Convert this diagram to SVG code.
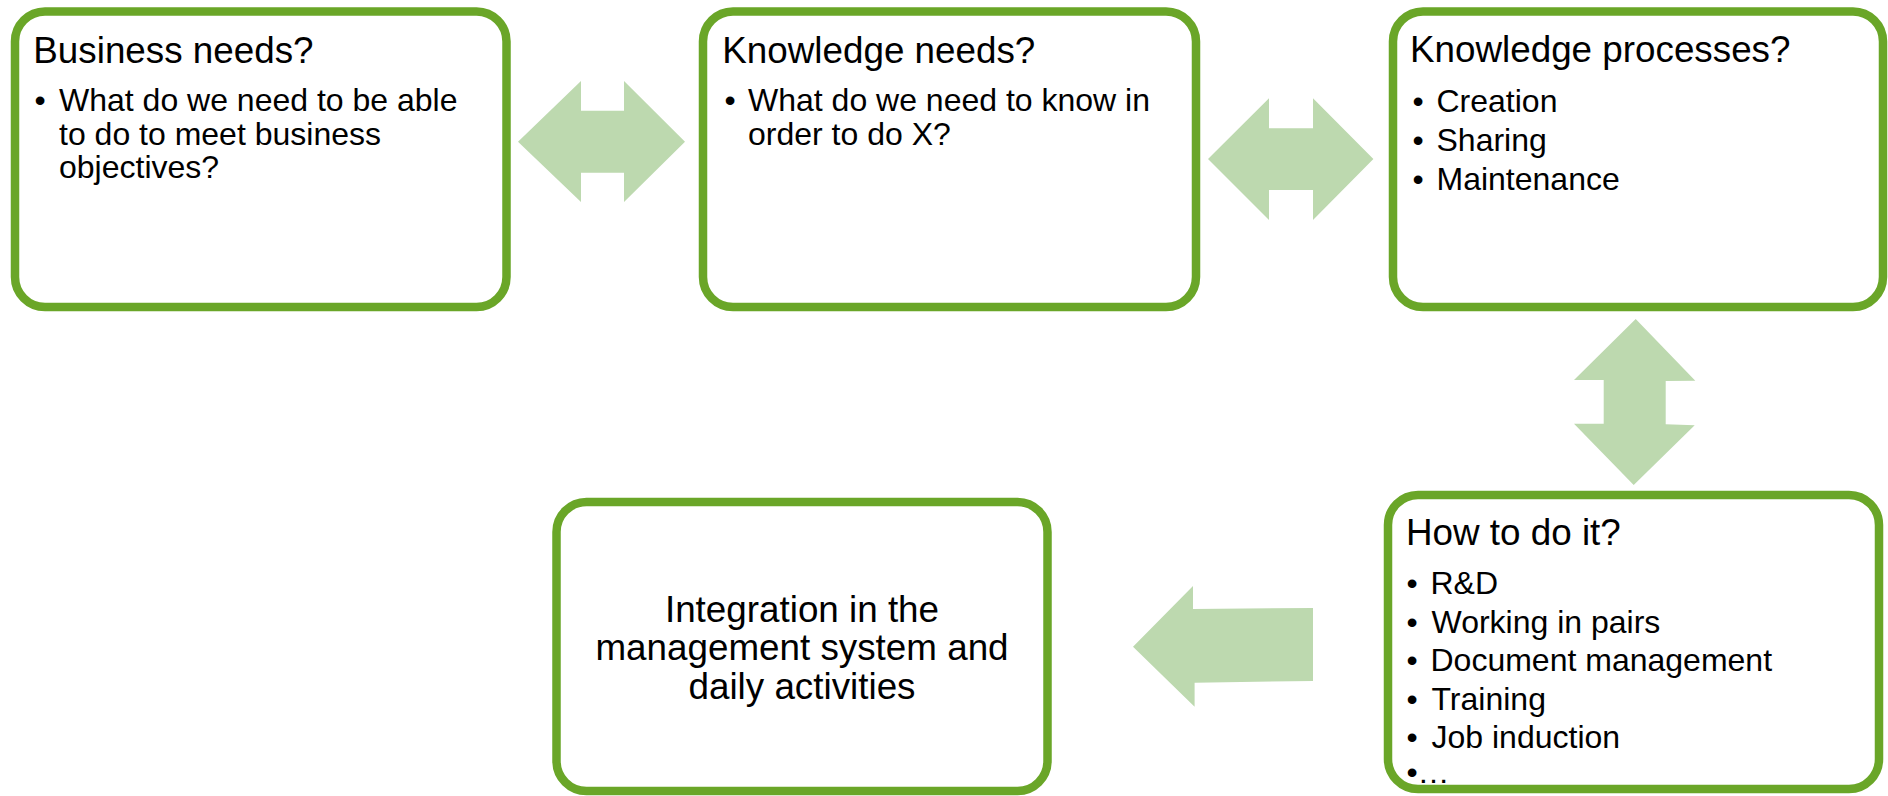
<svg xmlns="http://www.w3.org/2000/svg" width="1888" height="796" viewBox="0 0 1888 796">
  <style>
    .box { fill: #ffffff; stroke: #6aa628; stroke-width: 8.5; }
    .frame { fill: none; stroke: #6aa628; stroke-width: 8.5; }
    .arrow { fill: #bdd9af; stroke: none; }
    .title { font-family: "Liberation Sans", Arial, sans-serif; font-size: 36.8px; fill: #000000; }
    .body { font-family: "Liberation Sans", Arial, sans-serif; font-size: 32px; fill: #000000; }
    .center { text-anchor: middle; }
  </style>
  <rect width="1888" height="796" fill="#ffffff"/>

  <!-- connectors: broad block arrows between the stages -->
  <g id="connectors">
    <polygon class="arrow" points="518,141.7 581,81 581,110.7 624,110.7 624,81 685,141.7 624,202 624,172.7 581,172.7 581,202"/>
    <polygon class="arrow" points="1208,159 1269,98.3 1269,128.3 1313,128.3 1313,98.3 1373.4,159 1313,220 1313,190 1269,190 1269,220"/>
    <polygon class="arrow" points="1635.7,319 1695.3,380.7 1665.7,381 1665.7,424.3 1694.7,425.3 1633.7,485 1574,423.7 1603.7,423.7 1603.7,380 1574,380"/>
    <polygon class="arrow" points="1133,646.7 1193,586 1193,609 1313,608 1313,681 1194.6,682.7 1194.6,706.7"/>
  </g>

  <g id="business-needs">
    <rect class="box" x="15" y="11.5" width="491.5" height="295.5" rx="30" ry="30"/>
    <text class="title" x="33.3" y="63">Business needs?</text>
    <text class="body" x="34.4" y="111">•</text>
    <text class="body" x="59" y="111">What do we need to be able</text>
    <text class="body" x="59" y="144.5">to do to meet business</text>
    <text class="body" x="59" y="178">objectives?</text>
  </g>

  <g id="knowledge-needs">
    <rect class="box" x="703" y="11.5" width="493" height="295.5" rx="30" ry="30"/>
    <text class="title" x="722.3" y="63">Knowledge needs?</text>
    <text class="body" x="724.4" y="111">•</text>
    <text class="body" x="748" y="111">What do we need to know in</text>
    <text class="body" x="748" y="144.5">order to do X?</text>
  </g>

  <g id="knowledge-processes">
    <rect class="box" x="1393" y="11.5" width="490" height="295.5" rx="30" ry="30"/>
    <text class="title" x="1410" y="62">Knowledge processes?</text>
    <text class="body" x="1412.4" y="111.5">•</text>
    <text class="body" x="1436.5" y="111.5">Creation</text>
    <text class="body" x="1412.4" y="150.5">•</text>
    <text class="body" x="1436.5" y="150.5">Sharing</text>
    <text class="body" x="1412.4" y="189.5">•</text>
    <text class="body" x="1436.5" y="189.5">Maintenance</text>
  </g>

  <g id="how-to-do-it">
    <rect x="1388" y="495" width="491" height="294" rx="30" ry="30" fill="#ffffff"/>
    <text class="title" x="1406" y="545">How to do it?</text>
    <text class="body" x="1406.4" y="594">•</text>
    <text class="body" x="1430.5" y="594">R&amp;D</text>
    <text class="body" x="1406.4" y="632.5">•</text>
    <text class="body" x="1431.5" y="632.5">Working in pairs</text>
    <text class="body" x="1406.4" y="671">•</text>
    <text class="body" x="1430.5" y="671">Document management</text>
    <text class="body" x="1406.4" y="709.5">•</text>
    <text class="body" x="1431.5" y="709.5">Training</text>
    <text class="body" x="1406.4" y="748">•</text>
    <text class="body" x="1431.5" y="748">Job induction</text>
    <text class="body" x="1406.4" y="783">•…</text>
    <!-- border drawn last so it runs over the overflowing last line -->
    <rect class="frame" x="1388" y="495" width="491" height="294" rx="30" ry="30"/>
  </g>

  <g id="integration">
    <rect class="box" x="556.5" y="502" width="491" height="289" rx="30" ry="30"/>
    <text class="title center" x="802" y="621.7">Integration in the</text>
    <text class="title center" x="802" y="660">management system and</text>
    <text class="title center" x="802" y="698.5">daily activities</text>
  </g>
</svg>
